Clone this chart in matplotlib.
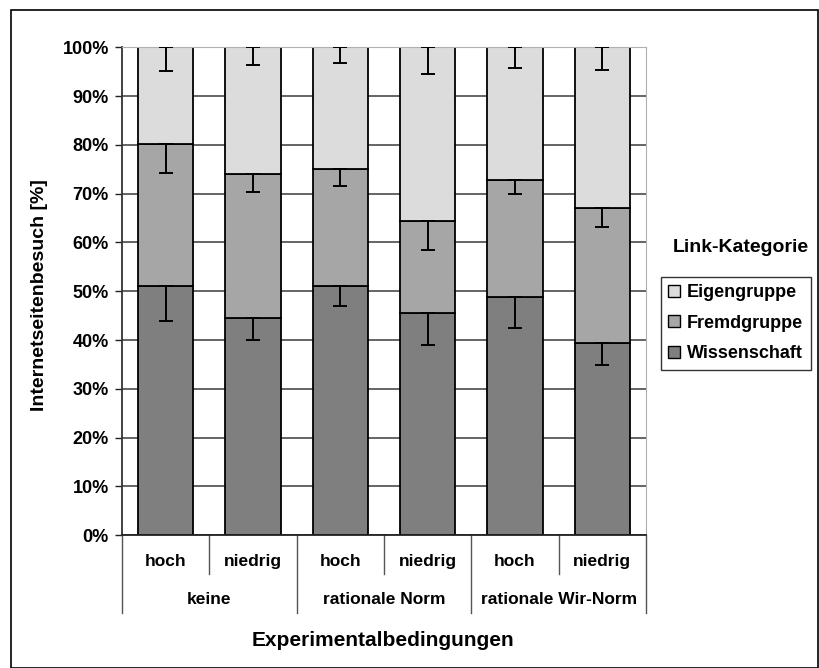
import numpy as np
import matplotlib.pyplot as plt
from matplotlib.patches import Patch, Rectangle

plt.rcParams['font.family'] = ['Liberation Sans', 'DejaVu Sans']
plt.rcParams['font.weight'] = 'bold'

levels = ["hoch", "niedrig", "hoch", "niedrig", "hoch", "niedrig"]
groups = ["keine", "rationale Norm", "rationale Wir-Norm"]
series = ["Wissenschaft", "Fremdgruppe", "Eigengruppe"]

# Anteile in %, gestapelt
wissenschaft = [51.1, 44.5, 51.1, 45.6, 48.8, 39.5]
fremdgruppe = [29.1, 29.5, 23.9, 18.8, 24.1, 27.5]
eigengruppe = [19.8, 26.0, 25.0, 35.6, 27.1, 33.0]
# Fehlerbalken (nur nach unten)
err_wiss = [7.2, 4.5, 4.1, 6.7, 6.3, 4.5]
err_fremd = [5.9, 3.7, 3.4, 6.0, 2.9, 3.9]
err_eigen = [4.9, 3.6, 3.3, 5.5, 4.2, 4.6]

colors = ['#7f7f7f', '#a6a6a6', '#dcdcdc']

W, H = 819, 668
fig = plt.figure(figsize=(W / 100, H / 100), dpi=100)
ax = fig.add_axes([122 / W, 1 - 535.3 / H, 524 / W, 488 / H])

x = np.arange(len(levels))
bottom = np.zeros(len(levels))
for vals, errs, col in zip([wissenschaft, fremdgruppe, eigengruppe],
                           [err_wiss, err_fremd, err_eigen], colors):
    vals = np.array(vals)
    ax.bar(x, vals, bottom=bottom, width=0.635, color=col, edgecolor='black',
           linewidth=1.3, zorder=2)
    top = bottom + vals
    ax.errorbar(x, top, yerr=[errs, np.zeros(len(errs))], fmt='none',
                ecolor='black', elinewidth=1.4, capsize=5, capthick=1.4, zorder=3)
    bottom = top

ax.set_xlim(-0.5, len(levels) - 0.5)
ax.set_ylim(0, 100)
ax.set_yticks(np.arange(0, 101, 10))
ax.set_yticklabels([f"{v}%" for v in range(0, 101, 10)], fontsize=13, fontweight='bold')
ax.tick_params(axis='y', length=5, width=1, color='#222222', pad=4.5)
ax.set_xticks([])
ax.grid(axis='y', color='#3a3a3a', linewidth=1.1, zorder=0)
ax.set_axisbelow(True)
ax.spines['left'].set_color('#333333')
ax.spines['left'].set_linewidth(1.3)
ax.spines['bottom'].set_color('#222222')
ax.spines['bottom'].set_linewidth(1.3)
ax.spines['top'].set_color('#b0b0b0')
ax.spines['right'].set_color('#b0b0b0')

# zweistufige Kategorienachse
tr = ax.get_xaxis_transform()
for i, lab in enumerate(levels):
    ax.text(i, -0.053, lab, transform=tr, ha='center', va='center',
            fontsize=12.5, fontweight='bold')
for i in range(1, len(levels)):
    yend = -0.159 if i % 2 == 0 else -0.079
    ax.plot([i - 0.5, i - 0.5], [0, yend], transform=tr, color='#555555',
            linewidth=1, clip_on=False)
for xe in (-0.5, len(levels) - 0.5):
    ax.plot([xe, xe], [0, -0.159], transform=tr, color='#555555',
            linewidth=1, clip_on=False)
for j, g in enumerate(groups):
    ax.text(2 * j + 0.5, -0.131, g, transform=tr, ha='center', va='center',
            fontsize=12.5, fontweight='bold')

fig.text(383 / W, 1 - 640 / H, "Experimentalbedingungen", ha='center', va='center',
         fontsize=15, fontweight='bold')
fig.text(40 / W, 1 - 295 / H, "Internetseitenbesuch [%]", ha='center', va='center',
         rotation=90, fontsize=14, fontweight='bold')

fig.text(741 / W, 1 - 248 / H, "Link-Kategorie", ha='center', va='center',
         fontsize=14, fontweight='bold')
handles = [Patch(facecolor=colors[k], edgecolor='black', linewidth=1) for k in (2, 1, 0)]
leg = fig.legend(handles, [series[k] for k in (2, 1, 0)], loc='upper left',
                 bbox_to_anchor=(661 / W, 1 - 277 / H), frameon=True, fancybox=False,
                 edgecolor='black', fontsize=13, handlelength=0.65, handleheight=0.65,
                 handletextpad=0.4, labelspacing=0.75, borderpad=0.4,
                 borderaxespad=0)
leg.get_frame().set_linewidth(1)
for t in leg.get_texts():
    t.set_fontweight('bold')

fig.patches.append(Rectangle((11 / W, 0), 807 / W, 1 - 10 / H, transform=fig.transFigure,
                             fill=False, edgecolor='black', linewidth=1.2))

fig.savefig('out.png', dpi=100)
